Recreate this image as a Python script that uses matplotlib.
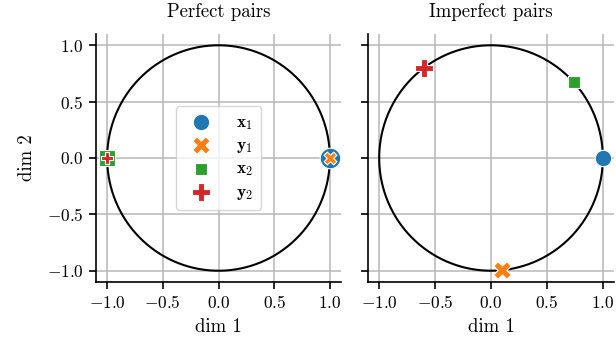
import numpy as np
import matplotlib
matplotlib.use("Agg")
import matplotlib.pyplot as plt

plt.rcParams["font.family"] = "cmr10"
plt.rcParams["mathtext.fontset"] = "cm"
plt.rcParams["axes.formatter.use_mathtext"] = True

labels = [r"$\mathbf{x}_1$", r"$\mathbf{y}_1$", r"$\mathbf{x}_2$", r"$\mathbf{y}_2$"]
colors = ["#1f77b4", "#ff7f0e", "#2ca02c", "#d62728"]
markers = ["o", "X", "s", "P"]

perfect_x = [1.0, 1.0, -1.0, -1.0]
perfect_y = [0.0, 0.0, 0.0, 0.0]
imperfect_x = [1.0, 0.10, 0.74, -0.60]
imperfect_y = [0.0, -0.995, 0.67, 0.80]

ticks = [-1.0, -0.5, 0.0, 0.5, 1.0]
titles = ["Perfect pairs", "Imperfect pairs"]

# marker areas (pt^2) per point in each panel
perfect_sizes = [220, 85, 130, 85]
imperfect_sizes = [140, 160, 80, 150]

fig = plt.figure(figsize=(6.16, 3.43), dpi=100)
ax1 = fig.add_axes([96/616, 1 - 282/343, 245/616, 248/343])
ax2 = fig.add_axes([368/616, 1 - 282/343, 246/616, 248/343], sharey=ax1)

theta = np.linspace(0, 2*np.pi, 400)
for ax, xs, ys, sizes, title in zip([ax1, ax2], [perfect_x, imperfect_x],
                                    [perfect_y, imperfect_y],
                                    [perfect_sizes, imperfect_sizes], titles):
    ax.grid(True, color="#b8b8b8", linewidth=1.1, zorder=0)
    ax.set_axisbelow(True)
    ax.plot(np.cos(theta), np.sin(theta), color="black", linewidth=1.5, zorder=2)
    for x, y, c, m, lab, s in zip(xs, ys, colors, markers, labels, sizes):
        ax.scatter([x], [y], s=s, c=c, marker=m, edgecolors="white",
                   linewidths=0.8, zorder=3, label=lab)
    ax.set_xlim(-1.1, 1.1)
    ax.set_ylim(-1.1, 1.1)
    ax.set_xticks(ticks)
    ax.set_yticks(ticks)
    ax.set_title(title, fontsize=13.5, pad=12)
    ax.set_xlabel("dim 1", fontsize=13.5, labelpad=5)
    ax.spines["top"].set_visible(False)
    ax.spines["right"].set_visible(False)
    for sp in ("left", "bottom"):
        ax.spines[sp].set_linewidth(1.2)
    ax.tick_params(labelsize=12.5, length=5, width=1.2, pad=4)

ax1.set_ylabel("dim 2", fontsize=13.5, labelpad=8)
plt.setp(ax2.get_yticklabels(), visible=False)

leg = ax1.legend(loc="center", fontsize=12.5, handletextpad=1.0, borderpad=0.45,
                 labelspacing=0.35, framealpha=0.8, edgecolor="#cccccc",
                 scatterpoints=1)
for h, s in zip(leg.legend_handles, imperfect_sizes):
    h.set_sizes([s])

fig.savefig("out.png", dpi=100)
